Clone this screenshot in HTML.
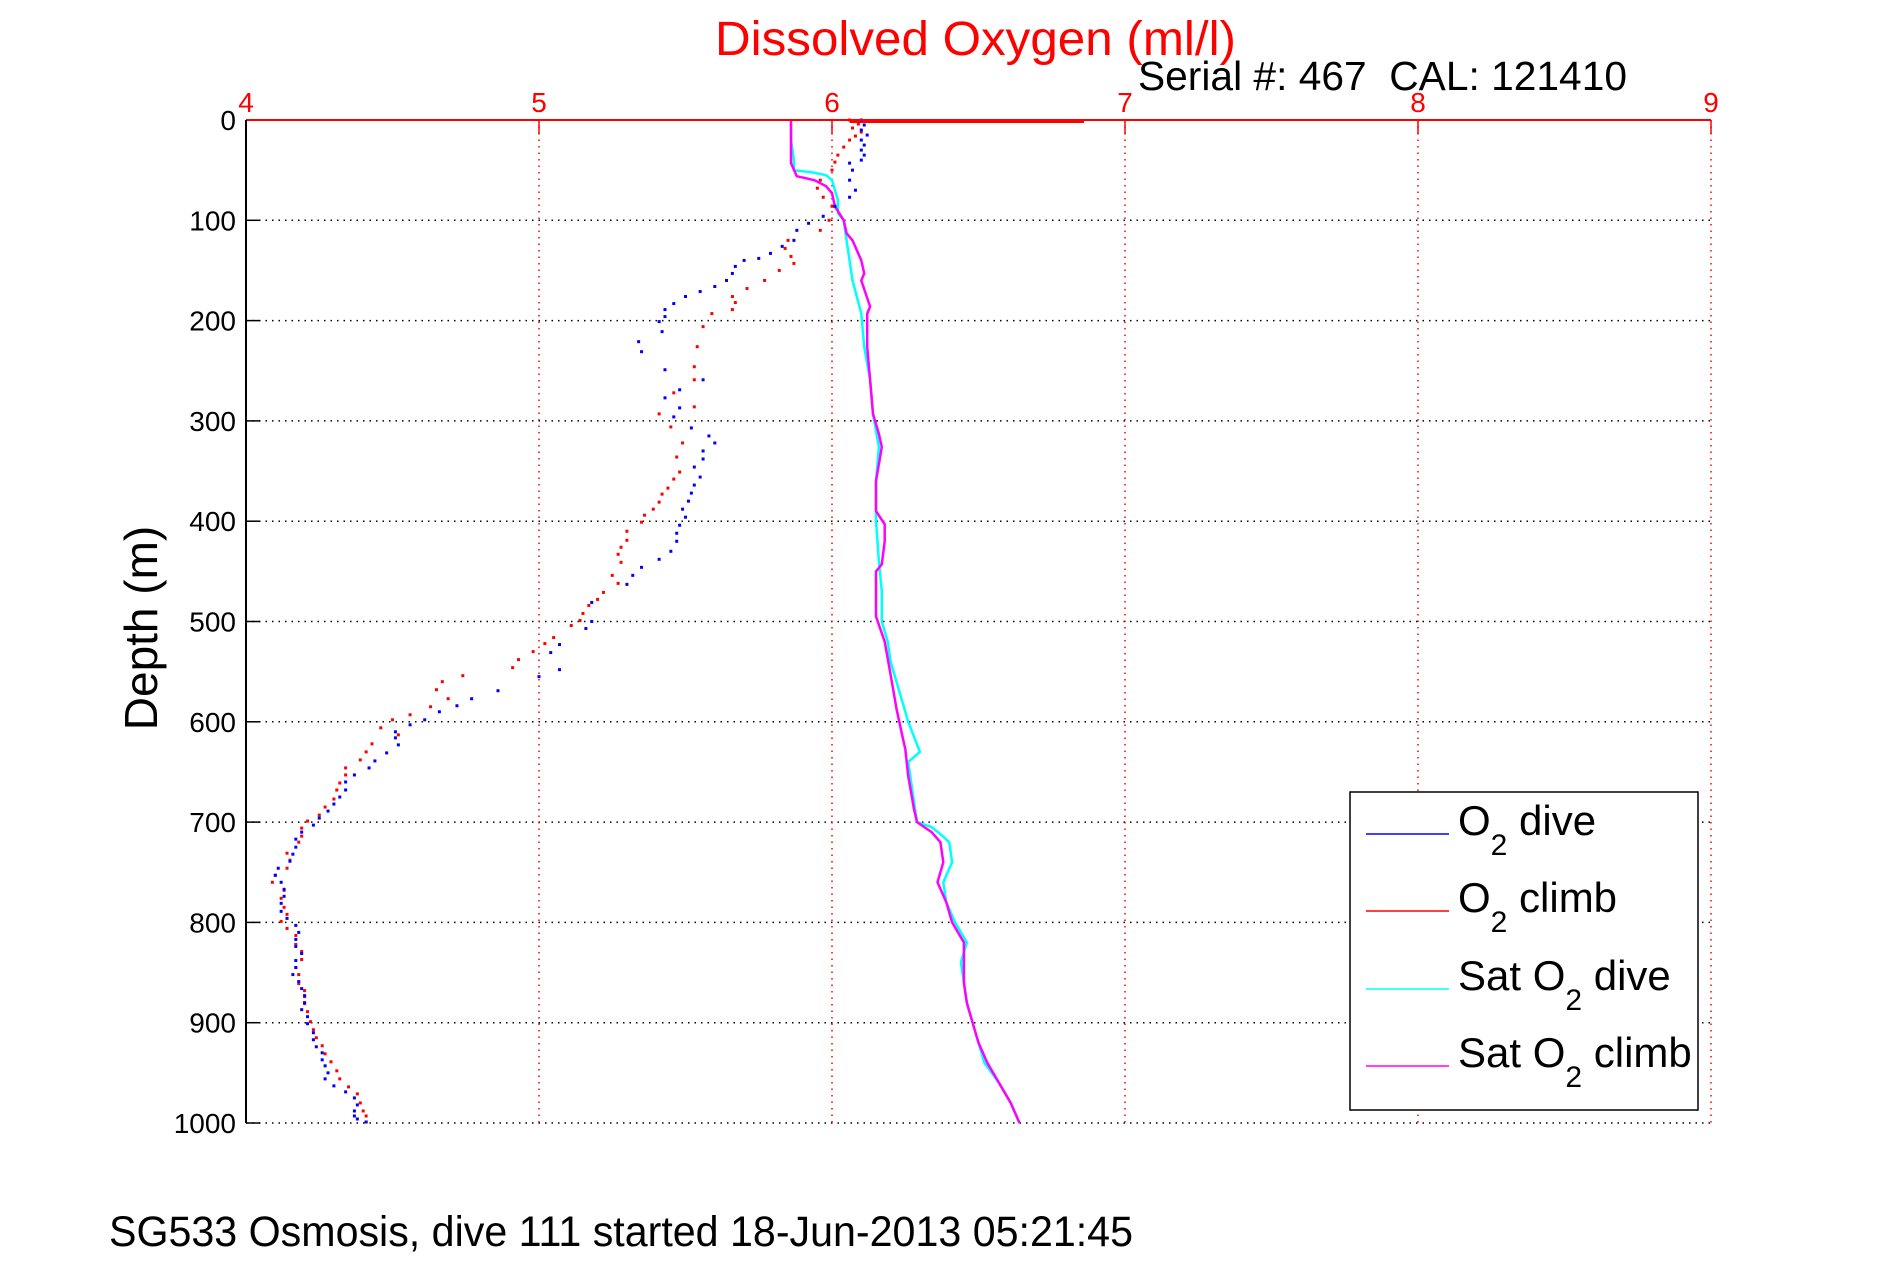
<!DOCTYPE html>
<html><head><meta charset="utf-8"><style>
html,body{margin:0;padding:0;background:#fff;}
svg{display:block;font-family:"Liberation Sans",sans-serif;}
</style></head><body>
<svg id="chart" width="1891" height="1262" viewBox="0 0 1891 1262" xmlns="http://www.w3.org/2000/svg">
<rect width="1891" height="1262" fill="#fff"/>
<g id="grid"></g>
<g id="series"></g>
<g id="axes"></g>
<text x="715" y="55" font-size="48" fill="#ff0000" textLength="521" lengthAdjust="spacingAndGlyphs">Dissolved Oxygen (ml/l)</text>
<text x="1138" y="90" font-size="41" fill="#000" textLength="489" lengthAdjust="spacingAndGlyphs">Serial #: 467&#160;&#160;CAL: 121410</text>
<text transform="translate(157,628) rotate(-90)" text-anchor="middle" font-size="46" fill="#000">Depth (m)</text>
<text x="109" y="1246" font-size="43" fill="#000" textLength="1024" lengthAdjust="spacingAndGlyphs">SG533 Osmosis, dive 111 started 18-Jun-2013 05:21:45</text>
<g>
<rect x="1350" y="792" width="348" height="318" fill="#fff" stroke="#000" stroke-width="1.5"/>
<line x1="1366" y1="834" x2="1449" y2="834" stroke="#0000ff" stroke-width="1.5"/>
<text x="1458" y="835" font-size="42">O<tspan font-size="30" dy="20">2</tspan><tspan dy="-20"> dive</tspan></text>
<line x1="1366" y1="911" x2="1449" y2="911" stroke="#ff0000" stroke-width="1.5"/>
<text x="1458" y="912" font-size="42">O<tspan font-size="30" dy="20">2</tspan><tspan dy="-20"> climb</tspan></text>
<line x1="1366" y1="989" x2="1449" y2="989" stroke="#00ffff" stroke-width="1.5"/>
<text x="1458" y="990" font-size="42">Sat O<tspan font-size="30" dy="20">2</tspan><tspan dy="-20"> dive</tspan></text>
<line x1="1366" y1="1066" x2="1449" y2="1066" stroke="#ff00ff" stroke-width="1.5"/>
<text x="1458" y="1067" font-size="42">Sat O<tspan font-size="30" dy="20">2</tspan><tspan dy="-20"> climb</tspan></text>
</g>
</svg>
<script>
const xTicks = [4,5,6,7,8,9];
const yTicks = [0,100,200,300,400,500,600,700,800,900,1000];
const diveDepth = [0,5,10,15,20,25,30,35,40,43,50,60,70,77,86,96,103,110,120,126,133,138,140,146,153,160,166,171,176,183,189,196,201,211,221,231,249,259,269,277,287,296,307,315,322,330,338,346,356,364,372,380,388,396,404,412,420,430,438,446,454,463,481,500,507,523,531,548,555,569,577,584,590,598,603,610,616,623,631,639,646,653,660,668,675,682,689,696,703,710,717,725,732,739,746,753,760,767,774,781,789,796,803,810,817,824,831,838,845,852,859,866,873,880,887,894,901,910,917,924,930,937,943,950,956,963,969,975,982,988,993,996,999];
const diveO2 = [6.1,6.11,6.1,6.12,6.1,6.11,6.1,6.11,6.1,6.06,6.07,6.06,6.08,6.06,6.01,5.97,5.92,5.88,5.87,5.83,5.79,5.75,5.7,5.67,5.66,5.64,5.6,5.55,5.5,5.46,5.43,5.43,5.41,5.42,5.34,5.35,5.43,5.56,5.48,5.43,5.48,5.46,5.52,5.58,5.6,5.56,5.56,5.53,5.55,5.53,5.52,5.51,5.49,5.5,5.48,5.47,5.47,5.45,5.41,5.35,5.32,5.3,5.18,5.18,5.16,5.07,5.04,5.07,5.0,4.86,4.77,4.72,4.66,4.61,4.56,4.51,4.51,4.52,4.48,4.44,4.42,4.37,4.34,4.34,4.32,4.3,4.28,4.25,4.23,4.19,4.17,4.17,4.16,4.15,4.11,4.1,4.12,4.13,4.13,4.12,4.12,4.14,4.17,4.18,4.17,4.17,4.19,4.17,4.17,4.16,4.18,4.19,4.2,4.2,4.19,4.21,4.21,4.23,4.23,4.24,4.26,4.26,4.27,4.28,4.27,4.3,4.34,4.37,4.38,4.37,4.37,4.38,4.41];
const climbDepth = [0,4,8,12,16,20,27,35,42,50,60,68,77,86,100,110,120,128,136,143,150,160,168,176,182,189,193,206,226,246,259,272,286,293,306,322,336,351,358,367,373,381,388,394,401,410,419,426,433,441,454,462,471,478,484,492,499,504,516,522,530,538,546,554,560,568,577,585,593,598,606,613,622,630,638,646,653,661,668,677,685,693,699,706,714,720,731,738,746,753,760,768,776,785,792,799,806,813,822,829,837,845,852,861,868,874,881,889,899,907,915,923,931,939,948,956,964,971,980,988,993,999];
const climbO2 = [6.06,6.09,6.07,6.1,6.08,6.06,6.04,6.02,6.01,6.0,5.96,5.95,5.97,6.0,5.99,5.96,5.85,5.84,5.86,5.87,5.82,5.77,5.71,5.66,5.67,5.66,5.59,5.56,5.54,5.53,5.53,5.46,5.53,5.41,5.45,5.49,5.47,5.48,5.46,5.44,5.42,5.41,5.39,5.36,5.35,5.3,5.3,5.28,5.27,5.28,5.25,5.27,5.22,5.2,5.17,5.15,5.14,5.11,5.05,5.02,4.98,4.93,4.91,4.74,4.67,4.65,4.69,4.63,4.56,4.5,4.46,4.52,4.43,4.41,4.39,4.34,4.34,4.32,4.31,4.3,4.27,4.25,4.21,4.19,4.19,4.18,4.14,4.15,4.14,4.1,4.09,4.13,4.12,4.13,4.14,4.12,4.14,4.17,4.17,4.19,4.19,4.17,4.18,4.18,4.2,4.2,4.2,4.21,4.22,4.23,4.24,4.26,4.27,4.29,4.31,4.32,4.35,4.38,4.39,4.4,4.41,4.41];
const satDiveDepth = [0,20,40,50,52,55,60,70,80,93,100,120,160,193,226,259,293,326,360,400,440,470,500,520,540,570,590,600,615,630,640,660,680,700,705,712,720,740,760,780,800,820,840,860,880,900,920,940,960,980,1000];
const satDiveO2 = [5.86,5.86,5.87,5.87,5.93,5.98,6.0,6.01,6.02,6.02,6.04,6.05,6.07,6.1,6.11,6.13,6.14,6.16,6.15,6.15,6.16,6.17,6.17,6.19,6.2,6.23,6.25,6.26,6.28,6.3,6.26,6.27,6.28,6.29,6.34,6.37,6.4,6.41,6.38,6.39,6.42,6.46,6.44,6.45,6.46,6.48,6.5,6.52,6.57,6.61,6.64];
const satClimbDepth = [0,20,43,56,60,66,73,86,100,113,120,140,153,160,186,193,226,259,293,313,326,360,390,403,420,443,450,470,495,520,553,587,614,627,654,687,700,710,720,740,760,780,800,820,840,860,880,900,920,940,960,980,1000];
const satClimbO2 = [5.86,5.86,5.86,5.88,5.94,5.98,6.0,6.01,6.04,6.05,6.07,6.1,6.11,6.1,6.13,6.12,6.12,6.13,6.14,6.16,6.17,6.15,6.15,6.18,6.18,6.17,6.15,6.15,6.15,6.18,6.2,6.22,6.24,6.25,6.26,6.28,6.29,6.34,6.37,6.38,6.36,6.39,6.41,6.45,6.45,6.45,6.46,6.48,6.5,6.53,6.57,6.61,6.64];

const NS = "http://www.w3.org/2000/svg";
const L = 246, R = 1711, T = 120, B = 1123;
function xs(v){ return L + (v - 4) / 5 * (R - L); }
function ys(d){ return T + d / 1000 * (B - T); }
function mk(tag, attrs, parent){
  const e = document.createElementNS(NS, tag);
  for (const k in attrs) e.setAttribute(k, attrs[k]);
  parent.appendChild(e);
  return e;
}
const grid = document.getElementById('grid');
const axes = document.getElementById('axes');
const series = document.getElementById('series');

yTicks.forEach(function(t){
  const g = mk('line', {x1:L, x2:R, y1:ys(t), y2:ys(t), stroke:'#000', 'stroke-width':1.5, 'stroke-dasharray':'1.5 5'}, grid);
  
  
  const tk = mk('line', {x1:L, x2:L+14, y1:ys(t), y2:ys(t), stroke:'#000', 'stroke-width':1.5}, axes);
  
  
  const lb = mk('text', {x:236, y:ys(t)+10, 'text-anchor':'end', 'font-size':28, fill:'#000'}, axes);
  lb.textContent = String(t);
  
  
});
xTicks.forEach(function(t){
  const g = mk('line', {x1:xs(t), x2:xs(t), y1:T, y2:B, stroke:'#ff0000', 'stroke-width':1.5, 'stroke-dasharray':'1.5 5'}, grid);
  
  
  const tk = mk('line', {x1:xs(t), x2:xs(t), y1:T, y2:T+14, stroke:'#ff0000', 'stroke-width':1.5}, axes);
  
  
  const lb = mk('text', {x:xs(t), y:112, 'text-anchor':'middle', 'font-size':28, fill:'#ff0000'}, axes);
  lb.textContent = String(t);
  
  
});
const topAx = mk('line', {x1:L, x2:R, y1:T, y2:T, stroke:'#ff0000', 'stroke-width':2}, axes);


const leftAx = mk('line', {x1:L, x2:L, y1:T, y2:B, stroke:'#000', 'stroke-width':2}, axes);


const surf = mk('line', {x1:xs(6.06), x2:xs(6.86), y1:T+2, y2:T+2, stroke:'#ff0000', 'stroke-width':2}, series);



function drawLine(depths, vals, color, name){
  let d = '';
  for (let i = 0; i < depths.length; i++) d += (i ? 'L' : 'M') + xs(vals[i]).toFixed(1) + ',' + ys(depths[i]).toFixed(1);
  const p = mk('path', {d:d, fill:'none', stroke:color, 'stroke-width':2.5, 'stroke-linejoin':'round'}, series);
  
  
}
function drawDots(depths, vals, color, name){
  for (let i = 0; i < depths.length; i++){
    const r = mk('rect', {x:xs(vals[i])-1.5, y:ys(depths[i])-1.5, width:3, height:3, fill:color}, series);
    
    
  }
}
drawLine(satDiveDepth, satDiveO2, '#00ffff', 'sat-o2-dive-line');
drawLine(satClimbDepth, satClimbO2, '#ff00ff', 'sat-o2-climb-line');
drawDots(climbDepth, climbO2, '#ff0000', 'o2-climb-point');
drawDots(diveDepth, diveO2, '#0000ff', 'o2-dive-point');
</script>
</body></html>
